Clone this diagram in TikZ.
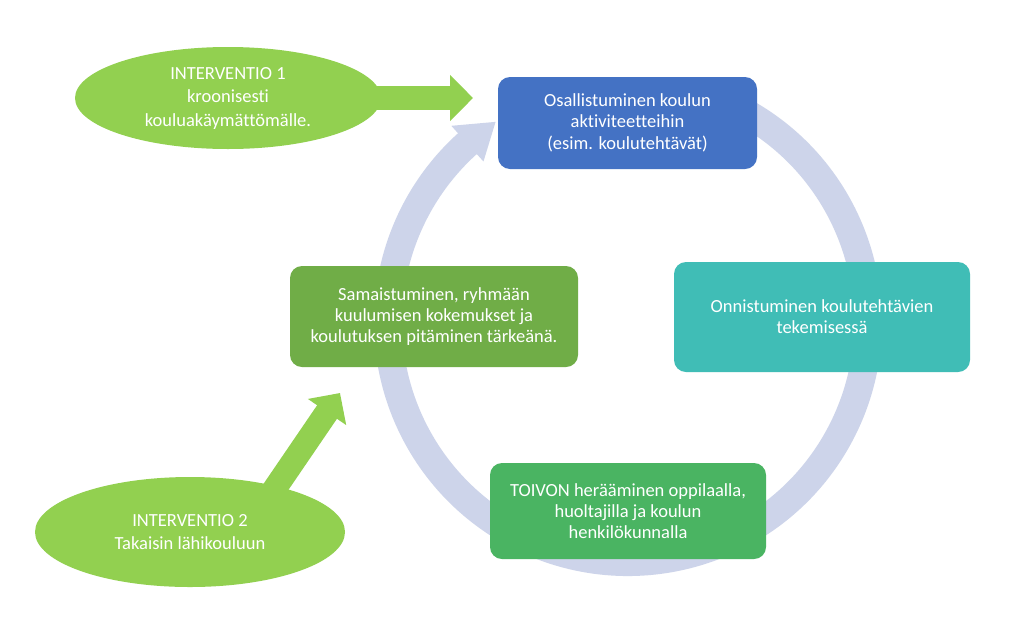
\documentclass[tikz,border=0pt]{standalone}
\usepackage{fontspec}
\setmainfont{Carlito}[Ligatures={NoCommon}]
\usetikzlibrary{shapes.geometric,arrows.meta,calc}
\definecolor{ringc}{HTML}{CDD4EA}
\definecolor{bluebox}{HTML}{4472C4}
\definecolor{greenbox}{HTML}{70AD47}
\definecolor{tealbox}{HTML}{40BDB6}
\definecolor{green2box}{HTML}{4AB462}
\definecolor{limeg}{HTML}{92D050}
\tikzset{
  stepbox/.style={rectangle, rounded corners=12pt, draw=none, text=white, align=center,
     inner sep=0pt, font=\fontsize{18.5}{21}\selectfont},
  ellbox/.style={ellipse, fill=limeg, draw=none, text=white, align=center, inner sep=0pt,
     font=\fontsize{18.5}{23.5}\selectfont},
  bigarrow/.style={draw=limeg, line width=24pt, -{Triangle[width=45pt,length=23pt]}},
}
\begin{document}
\begin{tikzpicture}[x=1pt,y=-1pt]
\useasboundingbox (0,0) rectangle (1024,627);
\fill[white] (0,0) rectangle (1024,627);
% ring
\coordinate (c) at (628,322);
\draw[ringc, line width=28pt] ($(c)+(-62:240)$) arc[start angle=-62, end angle=228.5, radius=240];
\fill[ringc] ($(c)+(228:264)$) -- ($(c)+(236.5:240)$) -- ($(c)+(228:216)$) -- cycle;
% boxes
\node[stepbox, fill=bluebox, minimum width=259pt, minimum height=92pt] (top) at (627.5,123)
  {Osallistuminen koulun\\aktiviteetteihin\\[1pt](esim. koulutehtävät)};
\node[stepbox, fill=tealbox, minimum width=296pt, minimum height=110pt] (right) at (822,317)
  {Onnistuminen koulutehtävien\\tekemisessä};
\node[stepbox, fill=green2box, minimum width=276pt, minimum height=96pt] (bottom) at (628,511)
  {TOIVON herääminen oppilaalla,\\huoltajilla ja koulun\\henkilökunnalla};
\node[stepbox, fill=greenbox, minimum width=288pt, minimum height=101pt] (left) at (434,316.5)
  {Samaistuminen, ryhmään\\kuulumisen kokemukset ja\\koulutuksen pitäminen tärkeänä.};
% interventions
\node[ellbox, minimum width=306pt, minimum height=102pt] (e1) at (228,98)
  {INTERVENTIO 1\\kroonisesti\\kouluakäymättömälle.};
\node[ellbox, minimum width=310pt, minimum height=110pt] (e2) at (190,532)
  {INTERVENTIO 2\\Takaisin lähikouluun};
\coordinate (t1) at (473,98);
\coordinate (s2) at (267,500);
\coordinate (t2) at (340,393);
\draw[bigarrow] ([xshift=-20pt]e1.east) -- (t1);
\draw[bigarrow] (s2) -- (t2);
\end{tikzpicture}
\end{document}
